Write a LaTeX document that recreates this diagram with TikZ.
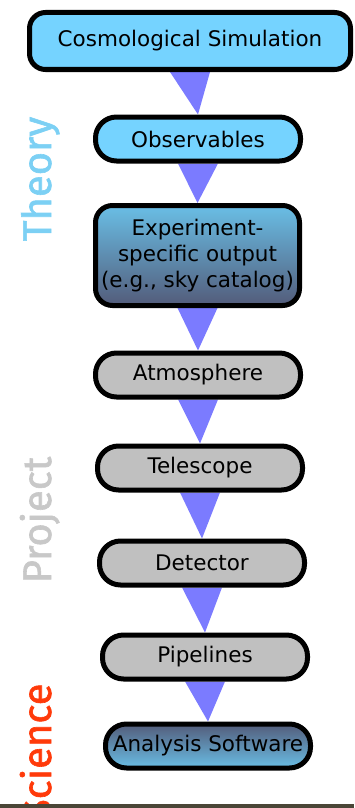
\documentclass[tikz,border=0pt]{standalone}
\usepackage{fontspec}
\setmainfont{DejaVu Sans}
\newfontfamily\sidefont[FakeBold=1.5]{Fira Sans}
\usetikzlibrary{backgrounds}
\definecolor{skyblue}{HTML}{75D3FF}
\definecolor{boxgray}{HTML}{C0C0C0}
\definecolor{darkblue}{HTML}{535C7A}
\definecolor{flowblue}{HTML}{7B7BFF}
\definecolor{theorycol}{HTML}{7CD0F4}
\definecolor{projectcol}{HTML}{C8C8C8}
\definecolor{sciencecol}{HTML}{FF3A0A}
\definecolor{barcol}{HTML}{4A4637}
\tikzset{
    theory/.style={draw=black, line width=5pt, fill=skyblue, rounded corners=16pt},
    pill/.style={draw=black, line width=5pt, rounded corners=21pt, minimum width=205pt, minimum height=44pt},
    output/.style={draw=black, line width=5pt, rounded corners=17pt, top color=skyblue!90!black, bottom color=darkblue},
    flow/.style={fill=flowblue},
    side/.style={rotate=90, font=\sidefont\fontsize{40}{44}\selectfont}
}

\begin{document}
\begin{tikzpicture}
  [
    x                       = 1pt,
    y                       = -1pt,
    every node/.style       = {font=\fontsize{21.5}{26}\selectfont, align=center},
  ]
  \clip (0,0) rectangle (354,808);
  % boxes
  \node [theory, minimum width=321pt, minimum height=57pt] (cosmo) at (190,41) {\raisebox{-5pt}{Cosmological Simulation}};
  \node [pill, fill=skyblue] (obs) at (198,139) {Observables};
  \node [output, minimum width=204pt, minimum height=100pt] (expt) at (197.5,255.5)
    {Experiment-\\specific output\\(e.g., sky catalog)};
  \node [pill, fill=boxgray] (atmo) at (198,375) {Atmosphere};
  \node [pill, fill=boxgray] (tele) at (200,468) {Telescope};
  \node [pill, fill=boxgray] (det) at (202,563) {Detector};
  \node [pill, fill=boxgray] (pipe) at (205,657) {Pipelines};
  \node [pill, inner sep=0pt, top color=darkblue, bottom color=skyblue!90!black] (ana) at (208,746) {Analysis Software};
  % flow triangles
  \begin{scope}[on background layer]
    \fill [flow] ([xshift=-20pt]cosmo.south) -- ([xshift=20pt]cosmo.south) -- (obs.north) -- cycle;
    \fill [flow] ([xshift=-20pt]obs.south) -- ([xshift=20pt]obs.south) -- (expt.north) -- cycle;
    \fill [flow] ([xshift=-20pt]expt.south) -- ([xshift=20pt]expt.south) -- (atmo.north) -- cycle;
    \fill [flow] ([xshift=-20pt]atmo.south) -- ([xshift=20pt]atmo.south) -- (tele.north) -- cycle;
    \fill [flow] ([xshift=-20pt]tele.south) -- ([xshift=20pt]tele.south) -- (det.north) -- cycle;
    \fill [flow] ([xshift=-20pt]det.south) -- ([xshift=20pt]det.south) -- (pipe.north) -- cycle;
    \fill [flow] ([xshift=-20pt]pipe.south) -- ([xshift=20pt]pipe.south) -- (ana.north) -- cycle;
  \end{scope}
  % side labels
  \node [side, text=theorycol, anchor=base] (theo) at (51,179) {Theory};
  \node [side, text=projectcol, anchor=base] (proj) at (51,520) {Project};
  \node [side, text=sciencecol, anchor=base east] (sci) at (51,680) {Science};
  \fill [barcol] (0,804) rectangle (354,808);
\end{tikzpicture}
\end{document}
